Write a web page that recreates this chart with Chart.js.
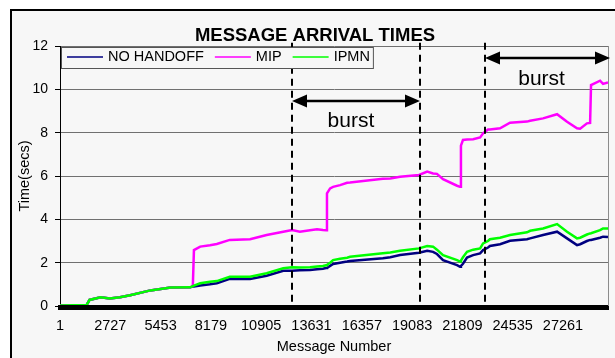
<!DOCTYPE html>
<html>
<head>
<meta charset="utf-8">
<script src="https://cdn.jsdelivr.net/npm/chart.js@4.4.1/dist/chart.umd.min.js"></script>
<style>
  html, body { margin: 0; padding: 0; background: #fff; width: 615px; height: 358px; overflow: hidden; }
  #frame { position: absolute; left: 10px; top: 9px; width: 640px; height: 400px; border: 2px solid #000; background: #f7f7f7; }
  #c { position: absolute; left: 0; top: 0; }
</style>
</head>
<body>
<div id="frame"></div>
<canvas id="c" width="615" height="358"></canvas>
<script>
// values
const messageNo = [1, 1450, 1600, 2200, 2700, 3250, 3800, 4900, 6000, 7050, 7200, 7260, 7600, 8130, 8500, 9200,
  10300, 11200, 12100, 12580, 13000, 13550, 13930, 14250, 14420, 14470, 14640, 14800, 15180, 15560, 15720,
  17500, 17900, 18430, 19460, 19900, 20220, 20430, 20760, 21520, 21680, 21730, 21840, 22060, 22390, 22770,
  22930, 23200, 23300, 23850, 24390, 25310, 25480, 26180, 26940, 27480, 28020, 28190, 28560, 28730, 28780,
  29270, 29430, 29700];
const noHandoff = [0.02, 0.05, 0.28, 0.40, 0.35, 0.40, 0.50, 0.72, 0.85, 0.86, 0.90, 0.90, 0.95, 1.00, 1.05, 1.25,
  1.25, 1.40, 1.63, 1.63, 1.65, 1.66, 1.70, 1.72, 1.75, 1.76, 1.85, 1.94, 2.00, 2.05, 2.08,
  2.20, 2.25, 2.35, 2.46, 2.55, 2.50, 2.40, 2.12, 1.89, 1.81, 1.85, 1.95, 2.24, 2.35, 2.43,
  2.58, 2.70, 2.77, 2.85, 3.01, 3.08, 3.12, 3.28, 3.43, 3.12, 2.81, 2.85, 3.00, 3.05, 3.05,
  3.15, 3.20, 3.18];
const mip = [0.02, 0.05, 0.28, 0.40, 0.35, 0.40, 0.50, 0.72, 0.85, 0.86, 0.92, 2.58, 2.74, 2.80, 2.86, 3.05,
  3.08, 3.28, 3.43, 3.51, 3.43, 3.50, 3.54, 3.51, 3.50, 5.20, 5.43, 5.50, 5.58, 5.69, 5.70,
  5.87, 5.89, 5.97, 6.05, 6.20, 6.12, 6.10, 5.85, 5.55, 5.50, 7.40, 7.66, 7.68, 7.70, 7.78,
  7.97, 8.15, 8.15, 8.20, 8.46, 8.51, 8.55, 8.66, 8.85, 8.50, 8.20, 8.18, 8.43, 8.45, 10.20,
  10.40, 10.25, 10.32];
const ipmn = [0.02, 0.05, 0.28, 0.40, 0.35, 0.40, 0.50, 0.72, 0.85, 0.86, 0.92, 0.94, 1.05, 1.12, 1.15, 1.35,
  1.35, 1.51, 1.74, 1.79, 1.78, 1.79, 1.82, 1.85, 1.88, 1.90, 2.00, 2.12, 2.18, 2.23, 2.27,
  2.43, 2.47, 2.55, 2.66, 2.77, 2.74, 2.60, 2.35, 2.12, 2.05, 2.10, 2.25, 2.50, 2.60, 2.66,
  2.89, 3.00, 3.08, 3.15, 3.28, 3.40, 3.47, 3.58, 3.78, 3.43, 3.12, 3.15, 3.30, 3.35, 3.36,
  3.50, 3.58, 3.58];
const xTickLabels = [1, 2727, 5453, 8179, 10905, 13631, 16357, 19083, 21809, 24535, 27261];

// burst annotations (message number / seconds)
const burstLines = [12575, 19510, 23035];
const burstSpans = [[12575, 19510], [23035, 29810]];
const burstArrowAt = [9.46, 11.45];
const burstLabelAt = [[15770, 8.28], [26100, 10.2]];

const FONT = '"Liberation Sans", Arial, sans-serif';
Chart.defaults.font.family = FONT;
Chart.defaults.color = '#000';

const pts = arr => messageNo.map((x, i) => ({ x, y: arr[i] }));

function arrow(ctx, x1, x2, yy) {
  const head = 15, half = 6.5;
  ctx.lineWidth = 2.5;
  ctx.beginPath();
  ctx.moveTo(x1 + head - 2, yy);
  ctx.lineTo(x2 - head + 2, yy);
  ctx.stroke();
  ctx.beginPath();
  ctx.moveTo(x1, yy); ctx.lineTo(x1 + head, yy - half); ctx.lineTo(x1 + head, yy + half);
  ctx.closePath(); ctx.fill();
  ctx.beginPath();
  ctx.moveTo(x2, yy); ctx.lineTo(x2 - head, yy - half); ctx.lineTo(x2 - head, yy + half);
  ctx.closePath(); ctx.fill();
}

const decor = {
  id: 'decor',
  afterDatasetsDraw(chart) {
    const { ctx, chartArea: a, scales: { x, y } } = chart;
    ctx.save();
    // crowded category ticks show as a black band under the axis
    ctx.fillStyle = '#000';
    ctx.fillRect(a.left - 2, a.bottom - 1, a.right - a.left + 3, 5);
    ctx.strokeStyle = '#8c8c8c';
    ctx.lineWidth = 1;
    ctx.beginPath();
    ctx.moveTo(a.right + 0.5, a.top);
    ctx.lineTo(a.right + 0.5, a.bottom);
    ctx.stroke();

    ctx.strokeStyle = '#000';
    ctx.lineWidth = 2;
    ctx.setLineDash([7, 5]);
    burstLines.forEach(m => {
      const px = Math.round(x.getPixelForValue(m));
      ctx.beginPath();
      ctx.moveTo(px, y.getPixelForValue(12.15));
      ctx.lineTo(px, a.bottom);
      ctx.stroke();
    });
    ctx.setLineDash([]);

    burstSpans.forEach((s, i) => {
      arrow(ctx, x.getPixelForValue(s[0]), x.getPixelForValue(s[1]), Math.round(y.getPixelForValue(burstArrowAt[i])));
    });
    ctx.font = '21px ' + FONT;
    ctx.textAlign = 'center';
    ctx.textBaseline = 'alphabetic';
    burstLabelAt.forEach(p => ctx.fillText('burst', x.getPixelForValue(p[0]), y.getPixelForValue(p[1])));
    ctx.restore();
  },
  afterDraw(chart) {
    const { ctx, chartArea: a } = chart;
    ctx.save();
    ctx.fillStyle = '#000';
    ctx.font = 'bold 18.5px ' + FONT;
    ctx.textAlign = 'center';
    ctx.textBaseline = 'middle';
    ctx.fillText('MESSAGE ARRIVAL TIMES', 315, 36);

    // boxed legend inside the plot
    ctx.font = '14.5px ' + FONT;
    ctx.textAlign = 'left';
    const sets = chart.data.datasets;
    const lineW = 36, gapTxt = 5, gapItem = 11;
    let w = 6;
    sets.forEach((d, i) => {
      w += lineW + gapTxt + ctx.measureText(d.label).width + (i < sets.length - 1 ? gapItem : 3);
    });
    const lx = a.left + 1, ly = a.top + 1, lh = 21;
    ctx.fillStyle = '#f7f7f7';
    ctx.fillRect(lx, ly, w, lh);
    ctx.strokeStyle = '#555';
    ctx.lineWidth = 1;
    ctx.strokeRect(lx + 0.5, ly + 0.5, w, lh);
    let cx = lx + 6;
    const cy = ly + 10;
    sets.forEach(d => {
      ctx.strokeStyle = d.borderColor;
      ctx.lineWidth = 1.5;
      ctx.beginPath();
      ctx.moveTo(cx, cy); ctx.lineTo(cx + lineW, cy);
      ctx.stroke();
      cx += lineW + gapTxt;
      ctx.fillStyle = '#000';
      ctx.fillText(d.label, cx, cy);
      cx += ctx.measureText(d.label).width + gapItem;
    });
    ctx.restore();
  }
};

new Chart(document.getElementById('c'), {
  type: 'line',
  data: {
    datasets: [
      { label: 'NO HANDOFF', data: pts(noHandoff), borderColor: '#000080', order: 3 },
      { label: 'MIP', data: pts(mip), borderColor: '#ff00ff', order: 2 },
      { label: 'IPMN', data: pts(ipmn), borderColor: '#00ff00', order: 1 }
    ]
  },
  options: {
    responsive: false,
    animation: false,
    devicePixelRatio: 1,
    layout: { padding: { top: 46, right: 7, left: 0, bottom: 0 } },
    elements: {
      line: { borderWidth: 2.5, tension: 0 },
      point: { radius: 0 }
    },
    plugins: {
      legend: { display: false },
      title: { display: false },
      tooltip: { enabled: false }
    },
    scales: {
      x: {
        type: 'linear',
        min: 1,
        max: 29700,
        grid: { display: false, drawTicks: false },
        border: { display: false },
        ticks: { autoSkip: false, maxRotation: 0, padding: 11, font: { size: 14.5 }, callback: v => String(v) },
        afterBuildTicks: s => { s.ticks = xTickLabels.map(v => ({ value: v })); },
        afterFit: s => { s.height = 52; },
        title: { display: true, text: 'Message Number', font: { size: 14.5 }, padding: { top: 0, bottom: 2 } }
      },
      y: {
        min: 0,
        max: 12,
        ticks: { stepSize: 2, padding: 7, font: { size: 14 } },
        grid: { color: '#707070', tickLength: 5, tickColor: '#000' },
        border: { color: '#000' },
        afterFit: s => { s.width = 60; },
        title: { display: true, text: 'Time(secs)', font: { size: 14.5 }, padding: { top: 16 } }
      }
    }
  },
  plugins: [decor]
});
</script>
</body>
</html>
